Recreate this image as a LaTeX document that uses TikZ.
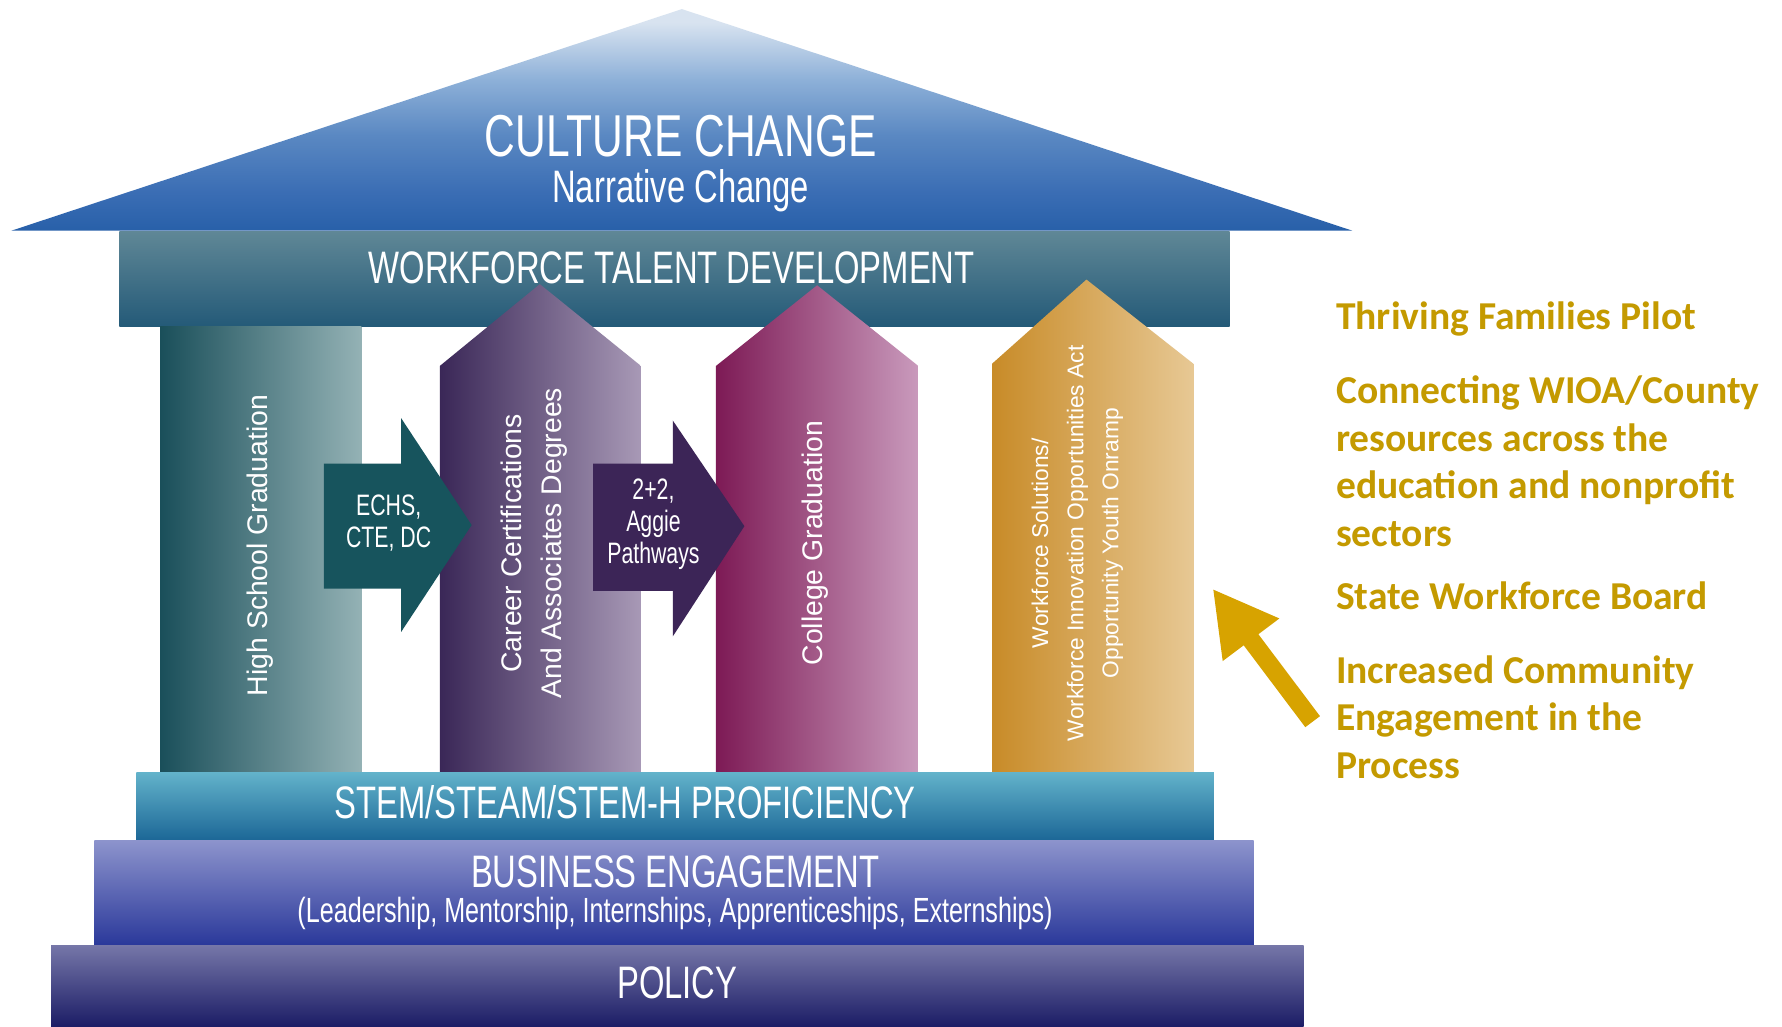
\documentclass[tikz,border=0pt]{standalone}
\usepackage{fontspec}
\setmainfont{Liberation Sans}
\newfontfamily\condf[FakeStretch=0.72]{Liberation Sans}
\newfontfamily\calf{Carlito}
\usetikzlibrary{arrows.meta}
\definecolor{roofT}{HTML}{D8E3F0}
\definecolor{roofL}{HTML}{8DB0D8}
\definecolor{roofM}{HTML}{5A88C2}
\definecolor{roofD}{HTML}{3A6DB4}
\definecolor{roofB}{HTML}{2860A9}
\definecolor{wfT}{HTML}{5F8796}
\definecolor{wfB}{HTML}{245A78}
\definecolor{pAL}{HTML}{1A4F5A}
\definecolor{pAR}{HTML}{94B2B5}
\definecolor{pBL}{HTML}{3A2757}
\definecolor{pBR}{HTML}{A899B6}
\definecolor{pCL}{HTML}{7D1A55}
\definecolor{pCR}{HTML}{C99ABC}
\definecolor{pDL}{HTML}{C88B28}
\definecolor{pDR}{HTML}{E7C894}
\definecolor{arA}{HTML}{17545D}
\definecolor{arB}{HTML}{3C2557}
\definecolor{stemT}{HTML}{62B2CA}
\definecolor{stemB}{HTML}{1B6696}
\definecolor{busT}{HTML}{8C93CC}
\definecolor{busB}{HTML}{2A389A}
\definecolor{polT}{HTML}{7576A8}
\definecolor{polB}{HTML}{1C1D66}
\definecolor{goldtxt}{HTML}{C49A00}
\definecolor{goldarr}{HTML}{D7A300}
\pgfdeclareverticalshading{roofshade}{100bp}{color(0bp)=(roofB); color(25bp)=(roofB); color(33.5bp)=(roofD); color(46.5bp)=(roofM); color(59bp)=(roofL); color(72bp)=(roofT); color(100bp)=(roofT)}
\tikzset{
  wtxt/.style={text=white, inner sep=0pt, align=center},
  bigcond/.style={wtxt, font=\condf\fontsize{11.4}{13}\selectfont},
  smallcond/.style={wtxt, font=\condf\fontsize{7.4}{8}\selectfont},
  piltxt/.style={wtxt, rotate=90, font=\fontsize{7.1}{10.2}\selectfont},
  goldpil/.style={wtxt, rotate=90, font=\fontsize{5.7}{8.8}\selectfont},
  sidetxt/.style={text=goldtxt, inner sep=0pt, anchor=base west, font=\calf\bfseries\fontsize{9.9}{12}\selectfont},
  goldarrow/.style={draw=goldarr, line width=4.6pt, -{Triangle[length=16pt,width=16.5pt]}}
}
\begin{document}
\begin{tikzpicture}[x=0.1mm,y=-0.1mm]
\useasboundingbox (0,0) rectangle (1568,903);
\fill[white] (0,0) rectangle (1568,903);
% roof
\shade[shading=roofshade] (600,8) -- (1190,203) -- (10,203) -- cycle;
% workforce band
\shade[top color=wfT, bottom color=wfB] (105,204) rectangle (1082,287);
% pillars
\shade[left color=pAL, right color=pAR] (141,287) rectangle (318,680);
\shade[left color=pBL, right color=pBR] (387,680) -- (387,322) -- (475,250) -- (564,322) -- (564,680) -- cycle;
\shade[left color=pCL, right color=pCR] (630,680) -- (630,322) -- (719,251) -- (808,322) -- (808,680) -- cycle;
\shade[left color=pDL, right color=pDR] (873,680) -- (873,320) -- (956,246) -- (1050,320) -- (1050,680) -- cycle;
% horizontal arrows
\fill[arA] (285,408) -- (353,408) -- (353,368) -- (415,462) -- (353,556) -- (353,518) -- (285,518) -- cycle;
\fill[arB] (522,408) -- (592,408) -- (592,370) -- (655,463) -- (592,560) -- (592,520) -- (522,520) -- cycle;
% foundation bands
\shade[top color=stemT, bottom color=stemB] (120,680) rectangle (1068,740);
\shade[top color=busT, bottom color=busB] (83,740) rectangle (1103,832);
\shade[top color=polT, bottom color=polB] (45,832) rectangle (1147,903);
% texts
\node[wtxt, font=\condf\fontsize{14.8}{16}\selectfont] (cc) at (599,120) {CULTURE CHANGE};
\node[bigcond] (nc) at (599,168) {Narrative Change};
\node[bigcond] (wtd) at (591,236) {WORKFORCE TALENT DEVELOPMENT};
\node[piltxt] (hs) at (229,480) {High School Graduation};
\node[piltxt] (cert) at (470,478) {Career Certifications\\And Associates Degrees};
\node[piltxt] (cg) at (717,478) {College Graduation};
\node[goldpil] (ws) at (948,478) {Workforce Solutions/\\Workforce Innovation Opportunities Act\\Opportunity Youth Onramp};
\node[smallcond] (echs) at (342,460) {ECHS,\\CTE, DC};
\node[smallcond] (aggie) at (575,461) {2+2,\\Aggie\\Pathways};
\node[bigcond] (stem) at (550,706) {STEM/STEAM/STEM-H PROFICIENCY};
\node[bigcond] (be) at (594,767) {BUSINESS ENGAGEMENT};
\node[wtxt, font=\condf\fontsize{8.75}{10}\selectfont] (lead) at (594,804) {(Leadership, Mentorship, Internships, Apprenticeships, Externships)};
\node[bigcond] (pol) at (596,865) {POLICY};
% side list
\node[sidetxt] (s1) at (1175,290) {Thriving Families Pilot};
\node[sidetxt] (s2) at (1175,355) {Connecting WIOA/County};
\node[sidetxt] (s3) at (1175,397) {resources across the};
\node[sidetxt] (s4) at (1175,439) {education and nonprofit};
\node[sidetxt] (s5) at (1175,481) {sectors};
\node[sidetxt] (s6) at (1175,536) {State Workforce Board};
\node[sidetxt] (s7) at (1175,601) {Increased Community};
\node[sidetxt] (s8) at (1175,643) {Engagement in the};
\node[sidetxt] (s9) at (1175,685) {Process};
% gold arrow
\coordinate (gaS) at (1155,635);
\coordinate (gaE) at (1067,518);
\draw[goldarrow] (gaS) -- (gaE);
\end{tikzpicture}
\end{document}
